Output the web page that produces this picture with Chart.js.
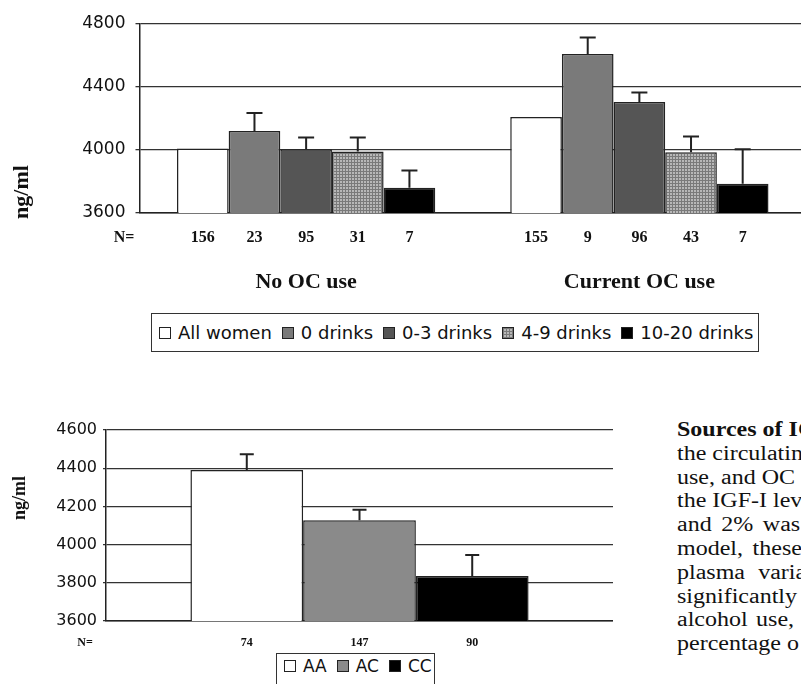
<!DOCTYPE html>
<html>
<head>
<meta charset="utf-8">
<script src="https://cdn.jsdelivr.net/npm/chart.js@4"></script>
<style>
  html, body { margin: 0; padding: 0; background: #fff; }
  body { width: 801px; height: 684px; overflow: hidden; position: relative; }
  canvas { position: absolute; left: 0; }
  .legend { position: absolute; border: 1px solid #333; display: flex; align-items: baseline;
            font-family: "DejaVu Sans", sans-serif; color: #111; background: #fff; }
  .legend span.sw { display: inline-block; width: 10px; height: 10px; border: 1px solid #222;
                    margin-right: 7px; vertical-align: baseline; }
  .legend .item { margin-right: 10px; white-space: nowrap; }
  .pat { background-color: #b8b8b8;
         background-image: linear-gradient(#7a7a7a 1px, transparent 1px), linear-gradient(90deg, #7a7a7a 1px, transparent 1px);
         background-size: 3px 3px; }
  #text { position: absolute; left: 677px; top: 418px; font-family: "Liberation Serif", serif;
          font-size: 20px; line-height: 23.8px; color: #111; white-space: nowrap;
          transform: scaleX(1.2); transform-origin: 0 0; }
</style>
</head>
<body>
<canvas id="topChart" width="806" height="300" style="top:0"></canvas>
<canvas id="geneChart" width="613" height="284" style="top:400px"></canvas>

<div class="legend" style="left:151px; top:313px; width:599px; height:37px; font-size:18px; padding-left:7px; align-items:center;">
  <div class="item"><span class="sw" style="background:#fff"></span>All women</div>
  <div class="item"><span class="sw" style="background:#7a7a7a"></span>0 drinks</div>
  <div class="item"><span class="sw" style="background:#555"></span>0-3 drinks</div>
  <div class="item"><span class="sw pat"></span>4-9 drinks</div>
  <div class="item"><span class="sw" style="background:#000"></span>10-20 drinks</div>
</div>
<div class="legend" style="left:276px; top:653px; width:150px; height:40px; font-size:17px; padding-left:7px; align-items:flex-start; padding-top:2px;">
  <div class="item"><span class="sw" style="background:#fff"></span>AA</div>
  <div class="item"><span class="sw" style="background:#8a8a8a"></span>AC</div>
  <div class="item"><span class="sw" style="background:#000"></span>CC</div>
</div>

<div id="text">
  <div><b>Sources of IG</b></div>
  <div>the circulatin</div>
  <div>use, and OC</div>
  <div>the IGF-I lev</div>
  <div style="word-spacing:3px">and 2% was</div>
  <div style="word-spacing:3px">model, these</div>
  <div style="word-spacing:6px">plasma varia</div>
  <div>significantly</div>
  <div style="word-spacing:2px">alcohol use,</div>
  <div>percentage o</div>
</div>

<script>
// données : IGF-I selon usage OC et alcool
const groups = ['No OC use', 'Current OC use'];
const drinkLabels = ['All women', '0 drinks', '0-3 drinks', '4-9 drinks', '10-20 drinks'];
const allWomen = [4010, 4210];
const zeroDrinks = [4120, 4610];
const lowDrinks = [4005, 4305];
const midDrinks = [3990, 3985];
const heavyDrinks = [3760, 3785];
const zeroErr = [4235, 4715];
const lowErr = [4080, 4365];
const midErr = [4080, 4085];
const heavyErr = [3870, 4005];
const nAll = [156, 155];
const nZero = [23, 9];
const nLow = [95, 96];
const nMid = [31, 43];
const nHeavy = [7, 7];
const topTicks = [3600, 4000, 4400, 4800];

// données : génotypes
const genotypes = ['AA', 'AC', 'CC'];
const geneMeans = [4390, 4127, 3835];
const geneErr = [4473, 4183, 3945];
const geneN = [74, 147, 90];
const geneTicks = [3600, 3800, 4000, 4200, 4400, 4600];

// motif quadrillé pour 4-9 drinks
function checker() {
  const c = document.createElement('canvas');
  c.width = 3; c.height = 3;
  const g = c.getContext('2d');
  g.fillStyle = '#b8b8b8'; g.fillRect(0, 0, 3, 3);
  g.fillStyle = '#7a7a7a'; g.fillRect(0, 0, 3, 1); g.fillRect(0, 0, 1, 3);
  return g.createPattern(c, 'repeat');
}

// barres d'erreur + effectifs N
const extrasPlugin = {
  id: 'extras',
  afterDatasetsDraw(chart, args, opts) {
    const ctx = chart.ctx;
    const y = chart.scales.y;
    ctx.save();
    chart.data.datasets.forEach((ds, i) => {
      const meta = chart.getDatasetMeta(i);
      meta.data.forEach((bar, j) => {
        if (ds.err && ds.err[j] != null) {
          const ye = y.getPixelForValue(ds.err[j]);
          ctx.strokeStyle = '#222';
          ctx.lineWidth = 2;
          ctx.beginPath();
          ctx.moveTo(bar.x, bar.y);
          ctx.lineTo(bar.x, ye);
          ctx.moveTo(bar.x - opts.cap, ye);
          ctx.lineTo(bar.x + opts.cap, ye);
          ctx.stroke();
        }
        ctx.fillStyle = '#111';
        ctx.font = 'bold ' + opts.nSize + 'px "Liberation Serif"';
        ctx.textAlign = 'center';
        ctx.textBaseline = 'middle';
        ctx.fillText(String(ds.n[j]), bar.x, chart.chartArea.bottom + opts.nOffset);
      });
    });
    ctx.font = 'bold ' + opts.nSize + 'px "Liberation Serif"';
    ctx.textAlign = 'center';
    ctx.fillText('N=', opts.nX, chart.chartArea.bottom + opts.nOffset);
    // titre axe y
    ctx.translate(opts.titleX, opts.titleY);
    ctx.rotate(-Math.PI / 2);
    ctx.font = 'bold ' + opts.titleSize + 'px "Liberation Serif"';
    ctx.fillText('ng/ml', 0, 0);
    ctx.restore();
  }
};

const gridStyle = { color: '#333', lineWidth: 1.3 };
const plain = v => String(v);

new Chart(document.getElementById('topChart'), {
  type: 'bar',
  data: {
    labels: groups,
    datasets: [
      { label: drinkLabels[0], data: allWomen, n: nAll, backgroundColor: '#fff' },
      { label: drinkLabels[1], data: zeroDrinks, err: zeroErr, n: nZero, backgroundColor: '#7a7a7a' },
      { label: drinkLabels[2], data: lowDrinks, err: lowErr, n: nLow, backgroundColor: '#555' },
      { label: drinkLabels[3], data: midDrinks, err: midErr, n: nMid, backgroundColor: checker() },
      { label: drinkLabels[4], data: heavyDrinks, err: heavyErr, n: nHeavy, backgroundColor: '#000' }
    ].map(d => Object.assign(d, { borderColor: '#222', borderWidth: 1.5, barPercentage: 1, categoryPercentage: 0.775 }))
  },
  options: {
    responsive: false,
    animation: false,
    layout: { padding: { top: 24, left: 0, right: 0, bottom: 0 } },
    plugins: {
      legend: { display: false },
      tooltip: { enabled: false },
      extras: { cap: 8, nSize: 16, nOffset: 25, nX: 124, titleX: 22, titleY: 192, titleSize: 22 }
    },
    scales: {
      x: {
        grid: { display: false, drawTicks: false },
        border: { color: '#222', width: 1.5 },
        ticks: { color: '#111', font: { family: 'Liberation Serif', weight: 'bold', size: 22 }, padding: 56 },
        afterFit: s => { s.height = 87; }
      },
      y: {
        min: 3600, max: 4800,
        afterBuildTicks: s => { s.ticks = topTicks.map(v => ({ value: v })); },
        grid: Object.assign({ tickLength: 4 }, gridStyle),
        border: { color: '#222', width: 1.5 },
        ticks: { color: '#111', font: { family: 'DejaVu Sans', size: 17 }, padding: 10, callback: plain },
        afterFit: s => { s.width = 139.5; }
      }
    }
  },
  plugins: [extrasPlugin]
});

new Chart(document.getElementById('geneChart'), {
  type: 'bar',
  data: {
    labels: [''],
    datasets: [
      { label: genotypes[0], data: [geneMeans[0]], err: [geneErr[0]], n: [geneN[0]], backgroundColor: '#fff' },
      { label: genotypes[1], data: [geneMeans[1]], err: [geneErr[1]], n: [geneN[1]], backgroundColor: '#8a8a8a' },
      { label: genotypes[2], data: [geneMeans[2]], err: [geneErr[2]], n: [geneN[2]], backgroundColor: '#000' }
    ].map(d => Object.assign(d, { borderColor: '#222', borderWidth: 1.5, barPercentage: 1, categoryPercentage: 0.667 }))
  },
  options: {
    responsive: false,
    animation: false,
    layout: { padding: { top: 30, left: 0, right: 0, bottom: 0 } },
    plugins: {
      legend: { display: false },
      tooltip: { enabled: false },
      extras: { cap: 7, nSize: 12, nOffset: 22, nX: 85, titleX: 20, titleY: 98, titleSize: 18 }
    },
    scales: {
      x: {
        grid: { display: false, drawTicks: false },
        border: { color: '#222', width: 1.5 },
        ticks: { display: false },
        afterFit: s => { s.height = 63; }
      },
      y: {
        min: 3600, max: 4600,
        afterBuildTicks: s => { s.ticks = geneTicks.map(v => ({ value: v })); },
        grid: Object.assign({ tickLength: 3 }, gridStyle),
        border: { color: '#222', width: 1.5 },
        ticks: { color: '#111', font: { family: 'DejaVu Sans', size: 16 }, padding: 6, callback: plain },
        afterFit: s => { s.width = 106; }
      }
    }
  },
  plugins: [extrasPlugin]
});
</script>
</body>
</html>
